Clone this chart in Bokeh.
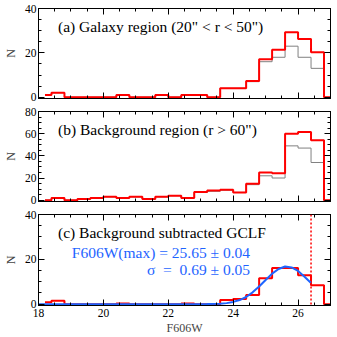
from bokeh.plotting import figure
from bokeh.models import Range1d, LinearAxis, SingleIntervalTicker, Label, Span
from bokeh.layouts import column
from bokeh.embed import file_html
from bokeh.resources import INLINE

# ---- data ----
mag_centers = [18.2, 18.6, 19.0, 19.4, 19.8, 20.2, 20.6, 21.0, 21.4, 21.8, 22.2,
               22.6, 23.0, 23.4, 23.8, 24.2, 24.6, 25.0, 25.4, 25.8, 26.2, 26.6, 27.0]
galaxy_raw = [1, 2, 0, 0, 0, 0, 1, 0, 0, 1, 0, 1, 1, 0, 4, 4, 7, 16, 18, 23, 18, 13, 0]
galaxy_corr = [1, 2, 0, 0, 0, 0, 1, 0, 0, 1, 0, 1, 1, 0, 4, 4, 7.3, 17.1, 21.4, 29.3, 26.2, 20.3, 0]
bkg_raw = [0, 2, 0, 1, 2, 3, 2, 3, 1, 3, 4, 2, 7, 8, 9, 7, 14, 22, 20, 49, 47, 34, 0]
bkg_corr = [0, 2, 0, 1, 2, 3, 2, 3, 1, 3, 4, 2, 7.3, 8.7, 9.5, 7.0, 14.9, 24.9, 24.4, 60.0, 61.5, 54.0, 0]
gclf_corr = [0.8, 1.5, 0, 0, 0, 0, 0.3, 0, 0, 0, 0, 0.3, 0, 0, 1.8, 2.3, 4.1, 11.6, 16.1, 16.1, 12.9, 8.4, 0]
fit_mag = [18.0, 22.8, 23.2, 23.6, 23.8, 24.0, 24.2, 24.4, 24.6, 24.8, 25.0, 25.2,
           25.4, 25.6, 25.8, 26.0, 26.2, 26.4]
fit_n = [0.0, 0.0, 0.03, 0.2, 0.46, 1.0, 1.84, 3.2, 5.28, 7.9, 10.8, 13.6,
         15.7, 16.8, 16.4, 14.8, 12.2, 9.4]
limit_mag = 26.4
x_min, x_max = 18, 27
y_lim_a, y_lim_b, y_lim_c = (-0.6, 40), (-1.2, 80), (-0.6, 40)

titles = ['(a) Galaxy region (20" < r < 50")',
          '(b) Background region (r > 60")',
          '(c) Background subtracted GCLF']
fit_text_1 = "F606W(max) = 25.65 \u00b1 0.04"
fit_text_2 = "\u03c3\u00a0\u00a0=\u00a0\u00a00.69 \u00b1 0.05"

FONT = "Liberation Serif"
RED = "#ff0000"
GRAY = "#808080"
BLUE = "#1e64ff"

x_range = Range1d(x_min, x_max)


def style_axis(ax, show_labels):
    ax.major_tick_in = 6
    ax.major_tick_out = 0
    ax.minor_tick_in = 3
    ax.minor_tick_out = 0
    ax.axis_line_color = "black"
    ax.major_tick_line_color = "black"
    ax.minor_tick_line_color = "black"
    ax.major_label_text_font = FONT
    if show_labels:
        ax.major_label_text_color = "black"
        ax.major_label_text_font_size = "11.5px"
        ax.major_label_standoff = 3
    else:
        ax.major_label_text_color = None
        ax.major_label_text_alpha = 0
        ax.major_label_text_font_size = "0px"
        ax.major_label_standoff = 0


def panel(ylim, height, top_b, bottom_b, show_x_labels):
    p = figure(width=337, height=height, x_range=x_range, y_range=Range1d(*ylim),
               output_backend="svg", toolbar_location=None,
               x_axis_location=None, y_axis_location=None,
               min_border_left=34, min_border_right=7,
               min_border_top=top_b, min_border_bottom=bottom_b)
    p.grid.visible = False
    p.outline_line_color = "black"
    p.outline_line_width = 1
    p.background_fill_color = "white"
    p.border_fill_color = "white"

    bottom = LinearAxis(ticker=SingleIntervalTicker(interval=2, num_minor_ticks=4))
    style_axis(bottom, show_x_labels)
    if show_x_labels:
        bottom.axis_label = "F606W"
        bottom.axis_label_text_font = FONT
        bottom.axis_label_text_font_size = "12px"
        bottom.axis_label_text_font_style = "normal"
        bottom.axis_label_standoff = 1
    p.add_layout(bottom, "below")

    top = LinearAxis(ticker=SingleIntervalTicker(interval=2, num_minor_ticks=4))
    style_axis(top, False)
    p.add_layout(top, "above")

    left = LinearAxis(ticker=SingleIntervalTicker(interval=20, num_minor_ticks=4))
    style_axis(left, True)
    left.major_label_standoff = 2
    left.axis_label = "N"
    left.axis_label_text_font = FONT
    left.axis_label_text_font_size = "12px"
    left.axis_label_text_font_style = "normal"
    left.axis_label_standoff = 4
    p.add_layout(left, "left")

    right = LinearAxis(ticker=SingleIntervalTicker(interval=20, num_minor_ticks=4))
    style_axis(right, False)
    p.add_layout(right, "right")
    return p


pa = panel(y_lim_a, 103, 8, 5, False)
pa.step(x=mag_centers, y=galaxy_raw, mode="center", line_color=GRAY, line_width=1)
pa.step(x=mag_centers, y=galaxy_corr, mode="center", line_color=RED, line_width=2)
pa.add_layout(Label(x=18.6, y=32, text=titles[0], text_font=FONT, text_font_size="15.5px",
                    text_baseline="middle", text_align="left", text_color="black"))

pb = panel(y_lim_b, 103, 8, 5, False)
pb.step(x=mag_centers, y=bkg_raw, mode="center", line_color=GRAY, line_width=1)
pb.step(x=mag_centers, y=bkg_corr, mode="center", line_color=RED, line_width=2)
pb.add_layout(Label(x=18.6, y=64, text=titles[1], text_font=FONT, text_font_size="15.5px",
                    text_baseline="middle", text_align="left", text_color="black"))

pc = panel(y_lim_c, 131, 8, 0, True)
pc.step(x=mag_centers, y=gclf_corr, mode="center", line_color=RED, line_width=2)
pc.line(x=fit_mag, y=fit_n, line_color=BLUE, line_width=2)
pc.add_layout(Span(location=limit_mag, dimension="height", line_color=RED,
                   line_width=1.5, line_dash="2 2"))
pc.add_layout(Label(x=18.6, y=32, text=titles[2], text_font=FONT, text_font_size="15.5px",
                    text_baseline="middle", text_align="left", text_color="black"))
pc.add_layout(Label(x=24.52, y=22.9, text=fit_text_1, text_font=FONT, text_font_size="15.5px",
                    text_baseline="middle", text_align="right", text_color=BLUE))
pc.add_layout(Label(x=24.52, y=15.6, text=fit_text_2, text_font=FONT, text_font_size="15.5px",
                    text_baseline="middle", text_align="right", text_color=BLUE))

layout = column(pa, pb, pc, spacing=0)
open("out.html", "w").write(file_html(layout, INLINE))
